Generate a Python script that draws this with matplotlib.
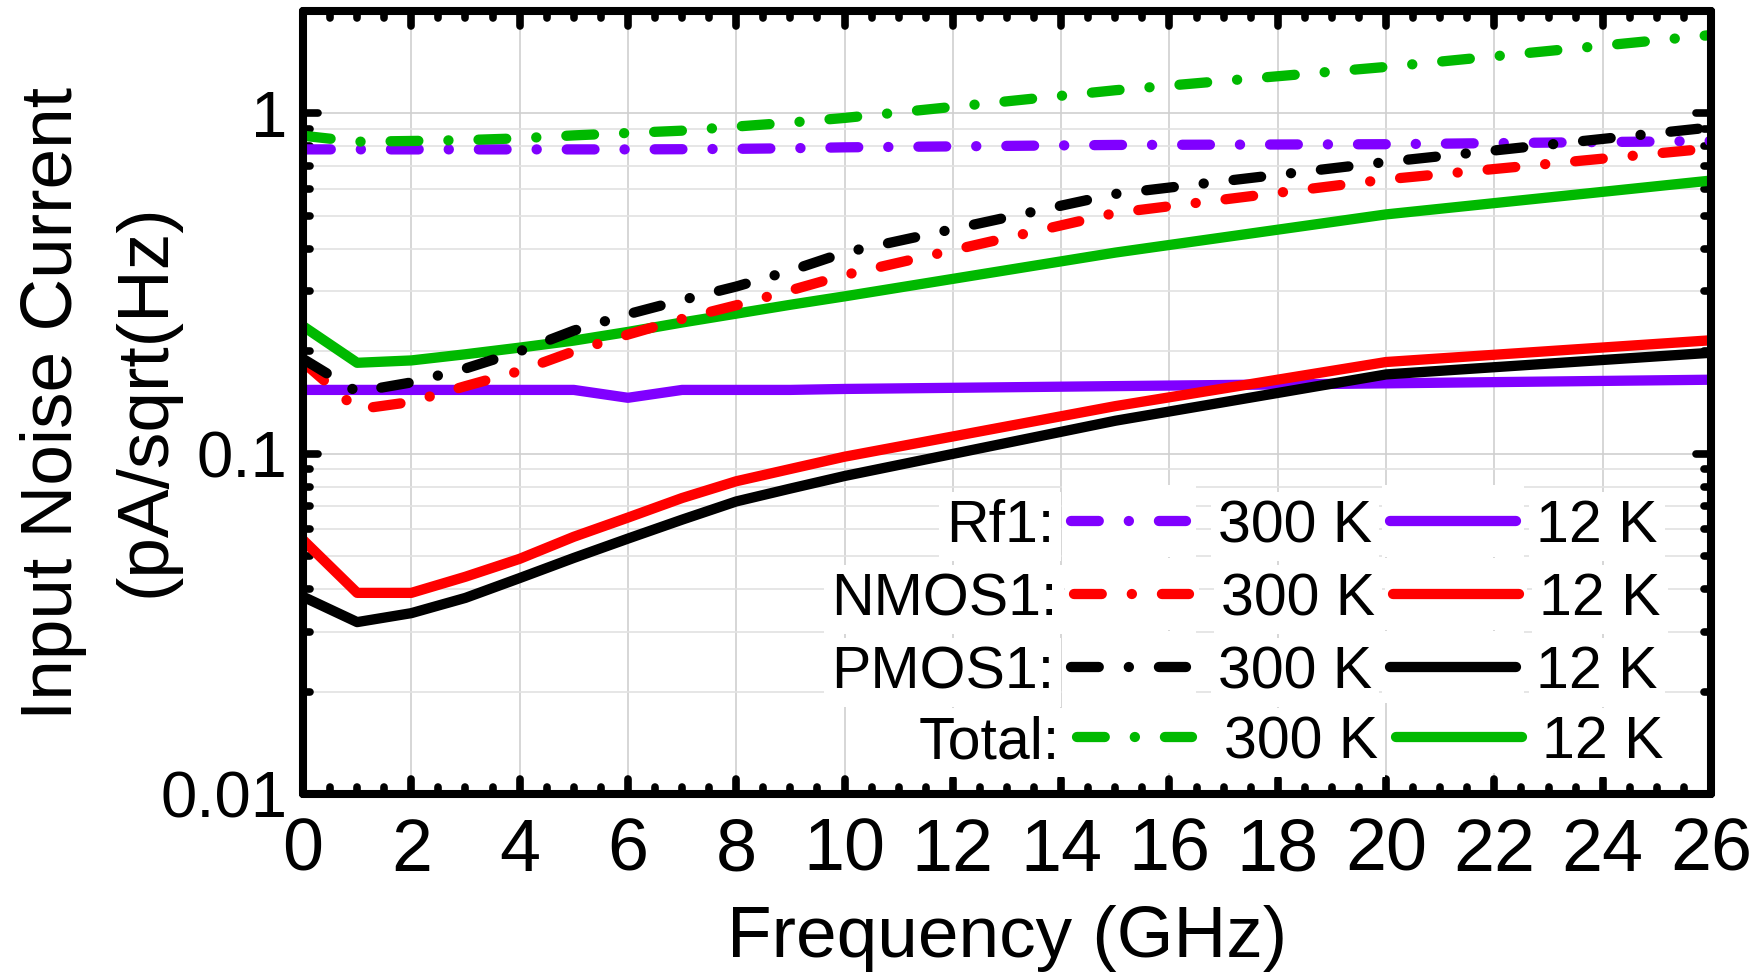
import matplotlib
matplotlib.use("Agg")
import matplotlib.pyplot as plt
from matplotlib.ticker import FixedLocator, MultipleLocator, NullFormatter, FixedFormatter
from matplotlib.markers import MarkerStyle
from matplotlib.patches import Rectangle

# ---------------- data ----------------
freq_ghz = [0, 1, 2, 3, 4, 5, 6, 7, 8, 9, 10, 15, 20, 26]

rf1_300k = [0.784, 0.784, 0.784, 0.784, 0.784, 0.784, 0.784, 0.785, 0.787, 0.79, 0.795, 0.808, 0.812, 0.83]
rf1_12k = [0.154, 0.154, 0.154, 0.154, 0.154, 0.154, 0.146, 0.154, 0.154, 0.154, 0.155, 0.158, 0.161, 0.165]
nmos1_300k = [0.186, 0.135, 0.142, 0.158, 0.175, 0.2, 0.224, 0.249, 0.273, 0.302, 0.335, 0.51, 0.64, 0.79]
nmos1_12k = [0.0558, 0.039, 0.039, 0.0435, 0.0491, 0.057, 0.0649, 0.0741, 0.083, 0.0902, 0.098, 0.138, 0.186, 0.2155]
pmos1_300k = [0.19, 0.152, 0.162, 0.178, 0.2, 0.23, 0.257, 0.283, 0.31, 0.345, 0.39, 0.58, 0.72, 0.91]
pmos1_12k = [0.038, 0.032, 0.034, 0.0377, 0.0431, 0.0494, 0.0563, 0.064, 0.0724, 0.079, 0.086, 0.125, 0.171, 0.198]
total_300k = [0.86, 0.826, 0.83, 0.835, 0.845, 0.862, 0.876, 0.89, 0.915, 0.94, 0.97, 1.17, 1.37, 1.70]
total_12k = [0.237, 0.185, 0.188, 0.196, 0.205, 0.215, 0.228, 0.243, 0.258, 0.274, 0.29, 0.39, 0.505, 0.635]

series_names = ["Rf1:", "NMOS1:", "PMOS1:", "Total:"]
temp_labels = ["300 K", "12 K"]
x_ticks = list(range(0, 27, 2))
y_ticks = [0.01, 0.1, 1]
y_tick_labels = ["0.01", "0.1", "1"]

PURPLE = "#8000ff"
RED = "#ff0000"
BLACK = "#000000"
GREEN = "#00b900"

# ---------------- figure ----------------
W, H, DPI = 1757, 974, 100
plt.rcParams["font.family"] = ["Liberation Sans", "DejaVu Sans"]
plt.rcParams["lines.scale_dashes"] = False

fig = plt.figure(figsize=(W / DPI, H / DPI), dpi=DPI)
L, R, T, B = 303, 1711, 11, 794
ax = fig.add_axes([L / W, 1 - B / H, (R - L) / W, (B - T) / H])

LW = 7.4
DASHDOT = (0, (20, 21.6, 0.1, 21.6))

def dashdot(ax_, x, y, color, **kw):
    return ax_.plot(x, y, color=color, lw=LW, linestyle=DASHDOT,
                    dash_capstyle="round", **kw)

def solid(ax_, x, y, color, **kw):
    return ax_.plot(x, y, color=color, lw=LW, solid_capstyle="round", **kw)

dashdot(ax, freq_ghz, rf1_300k, PURPLE, zorder=3)
solid(ax, freq_ghz, rf1_12k, PURPLE, zorder=3)
dashdot(ax, freq_ghz, total_300k, GREEN, zorder=3)
solid(ax, freq_ghz, total_12k, GREEN, zorder=3)
dashdot(ax, freq_ghz, nmos1_300k, RED, zorder=3)
solid(ax, freq_ghz, nmos1_12k, RED, zorder=3)
dashdot(ax, freq_ghz, pmos1_300k, BLACK, zorder=3)
solid(ax, freq_ghz, pmos1_12k, BLACK, zorder=3)

ax.set_yscale("log")
ax.set_xlim(0, 26)
ax.set_ylim(0.01, 2)

ax.xaxis.set_major_locator(FixedLocator(x_ticks))
ax.xaxis.set_minor_locator(MultipleLocator(0.5))
ax.yaxis.set_major_locator(FixedLocator(y_ticks))
ax.yaxis.set_major_formatter(FixedFormatter(y_tick_labels))
y_minor = [k * 10.0 ** e for e in (-2, -1, 0) for k in range(2, 10) if k * 10.0 ** e < 2.0]
ax.yaxis.set_minor_locator(FixedLocator(y_minor))
ax.yaxis.set_minor_formatter(NullFormatter())
ax.xaxis.set_minor_formatter(NullFormatter())

ax.tick_params(which="both", direction="in", top=True, right=True,
               width=5.5, color="black")
ax.tick_params(which="major", length=10.8)
ax.tick_params(which="minor", length=5.0)
ax.tick_params(axis="x", which="major", labelsize=53, pad=16.5)
ax.tick_params(axis="y", which="major", labelsize=47, pad=11)

ax.set_axisbelow(True)
ax.grid(True, which="major", axis="x", color="#cfcfcf", lw=1.2)
ax.grid(True, which="major", axis="y", color="#cfcfcf", lw=1.2)
ax.grid(True, which="minor", axis="y", color="#e2e2e2", lw=1.2)

for sp in ax.spines.values():
    sp.set_linewidth(5.8)
    sp.set_capstyle("round")
    sp.set_zorder(4)

# rounded tick ends
for axis in (ax.xaxis, ax.yaxis):
    for ticks in (axis.get_major_ticks(), axis.get_minor_ticks()):
        for t in ticks:
            for ln in (t.tick1line, t.tick2line):
                ln.set_marker(MarkerStyle(ln.get_marker(), capstyle="round"))

# ---------------- legend block ----------------
def axfrac(px, py):
    return (px - L) / (R - L), (B - py) / (B - T)

LEG_FS = 42.5
EM = LEG_FS / 0.72
row_y = [521, 594, 667, 737]
row_dx = [0, 3, 0, 6]
row_colors = [PURPLE, RED, BLACK, GREEN]
box = dict(boxstyle="square,pad=0.12", fc="white", ec="none")
half_h = 36

def white_rect(x0, x1, yc):
    xa, ya = axfrac(x0, yc + half_h)
    xb, yb = axfrac(x1, yc - half_h)
    ax.add_patch(Rectangle((xa, ya), xb - xa, yb - ya, transform=ax.transAxes,
                           fc="white", ec="none", zorder=5))

for name, color, ry, dx in zip(series_names, row_colors, row_y, row_dx):
    base = ry + 0.358 * EM
    tx, ty = axfrac(1054 + dx, base)
    ax.text(tx, ty, name, transform=ax.transAxes, ha="right", va="baseline",
            fontsize=LEG_FS, bbox=box, zorder=6)
    white_rect(1062 + dx, 1196 + dx, ry)
    xa, yy = axfrac(1071 + dx, ry)
    xb, _ = axfrac(1186 + dx, ry)
    ax.plot([xa, xb], [yy, yy], transform=ax.transAxes, color=color, lw=LW,
            linestyle=DASHDOT, dash_capstyle="round", zorder=7)
    tx, ty = axfrac(1218 + dx, base)
    ax.text(tx, ty, temp_labels[0], transform=ax.transAxes, ha="left",
            va="baseline", fontsize=LEG_FS, bbox=box, zorder=6)
    white_rect(1382 + dx, 1524 + dx, ry)
    xa, yy = axfrac(1390 + dx, ry)
    xb, _ = axfrac(1516 + dx, ry)
    ax.plot([xa, xb], [yy, yy], transform=ax.transAxes, color=color, lw=LW,
            solid_capstyle="round", zorder=7)
    tx, ty = axfrac(1536 + dx, base)
    ax.text(tx, ty, temp_labels[1], transform=ax.transAxes, ha="left",
            va="baseline", fontsize=LEG_FS, bbox=box, zorder=6)

# ---------------- axis titles ----------------
LAB_FS = 52.6
fig.text(72 / W, 1 - 404 / H, "Input Noise Current", rotation=90,
         rotation_mode="anchor", ha="center", va="baseline", fontsize=LAB_FS)
fig.text(165 / W, 1 - 400 / H, "(pA/sqrt(Hz)", rotation=90,
         rotation_mode="anchor", ha="center", va="baseline", fontsize=LAB_FS)
fig.text(1007 / W, 1 - 957 / H, "Frequency (GHz)", ha="center",
         va="baseline", fontsize=LAB_FS)

fig.savefig("out.png", dpi=DPI)
